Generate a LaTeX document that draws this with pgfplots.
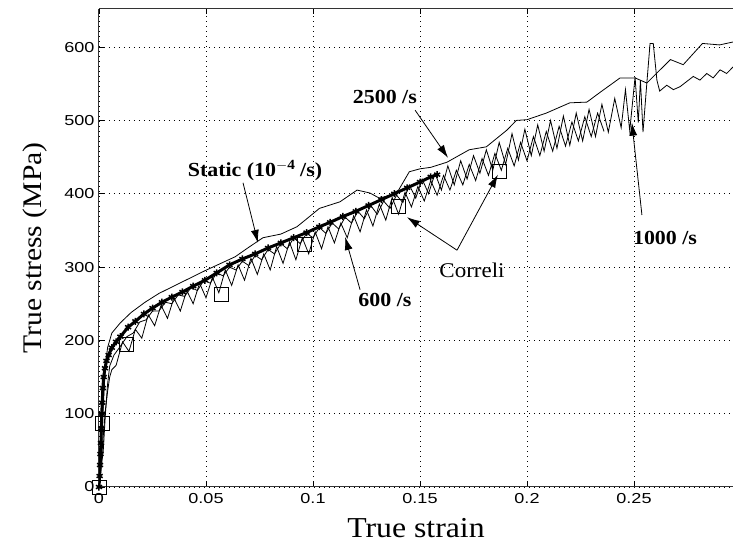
\documentclass[border=0pt]{standalone}
\usepackage{fontspec}
\setmainfont{Liberation Serif}[FakeStretch=1.1]
\newfontfamily\tickfont{Liberation Sans}[FakeStretch=1.25]
\usepackage{pgfplots}
\pgfplotsset{compat=1.18}
\usetikzlibrary{arrows.meta}

% stress-strain data
\pgfplotstableread{
x y
0 0
0.0003 15
0.0005 30
0.0007 45
0.0009 60
0.0011 80
0.0013 100
0.0015 115
0.0018 135
0.0022 150
0.0028 162
0.0035 172
0.0045 180
0.006 190
0.008 198
0.010 205
0.0136 218
0.017 226
0.021 236
0.025 244
0.0294 252
0.034 259
0.039 266
0.044 274
0.0495 282
0.055 292
0.061 303
0.067 311
0.073 318
0.079 326
0.085 333
0.091 340
0.097 347
0.103 355
0.108 361
0.114 369
0.120 376
0.126 384
0.132 392
0.138 400
0.144 408
0.150 416
0.155 423
0.158 426
}\staticdata

\pgfplotstableread{
x y
0 0
0.001 40
0.002 110
0.003 165
0.004 190
0.006 210
0.010 224
0.015 238
0.0215 252
0.028 264
0.037 277
0.0495 295
0.0636 314
0.070 327
0.0766 340
0.085 345
0.0925 355
0.098 368
0.103 380
0.1126 389
0.1206 405
0.1266 401
0.131 394
0.136 398
0.140 405
0.145 430
0.150 434
0.155 436
0.1626 443
0.173 460
0.181 464
0.1907 487
0.195 500
0.200 501
0.209 510
0.220 524
0.228 525
0.234 538
0.2435 558
0.2505 558
0.256 551
0.267 583
0.273 576
0.282 605
0.290 603
0.2963 607
}\rateA

\pgfplotstableread{
x y
0 0
0.002 50
0.003 100
0.004 140
0.005 165
0.007 180
0.010 192
0.013 205
0.016 210
0.019 225
0.022 228
0.025 240
0.028 240
0.031 252
0.034 250
0.037 262
0.040 260
0.043 272
0.046 268
0.049 282
0.052 278
0.055 292
0.058 288
0.061 300
0.064 296
0.067 308
0.070 302
0.073 316
0.076 310
0.079 324
0.082 318
0.085 332
0.088 325
0.091 340
0.094 332
0.097 346
0.100 340
0.103 354
0.106 346
0.109 360
0.112 352
0.115 368
0.118 360
0.121 376
0.124 366
0.127 384
0.130 372
0.133 390
0.136 380
0.139 398
0.142 388
0.145 412
0.148 394
0.151 420
0.154 400
0.157 428
0.160 405
0.163 438
0.166 412
0.169 445
0.172 420
0.175 452
0.178 428
0.181 460
0.184 432
0.187 470
0.190 440
0.193 482
0.196 446
0.199 488
0.202 452
0.205 494
0.208 458
0.211 500
0.214 462
0.217 506
0.220 466
0.223 510
0.226 472
0.229 515
0.232 478
0.235 522
0.238 484
0.241 530
0.244 490
0.246 542
0.248 486
0.2505 559
0.252 497
0.253 555
0.2542 484
0.256 551
0.2575 605
0.259 605
0.2607 555
0.262 540
0.2653 548
0.2684 542
0.2715 546
0.2746 553
0.2777 560
0.2808 555
0.284 564
0.287 558
0.2902 569
0.2933 564
0.2963 573
}\rateB

\pgfplotstableread{
x y
0 0
0.001 30
0.002 70
0.003 105
0.004 130
0.005 150
0.006 160
0.008 166
0.011 198
0.014 185
0.017 215
0.020 203
0.023 235
0.026 220
0.029 248
0.032 230
0.035 258
0.038 240
0.041 268
0.044 250
0.047 278
0.050 258
0.053 286
0.056 265
0.059 296
0.062 275
0.065 303
0.068 282
0.071 312
0.074 290
0.077 318
0.080 296
0.083 328
0.086 305
0.089 334
0.092 310
0.095 340
0.098 318
0.101 348
0.104 325
0.107 355
0.110 333
0.113 360
0.116 340
0.119 370
0.122 348
0.125 378
0.128 356
0.131 386
0.134 364
0.137 395
0.140 372
0.143 402
0.146 382
0.149 410
0.152 390
0.155 418
0.158 398
0.161 425
0.164 405
0.167 432
0.170 412
0.173 440
0.176 418
0.179 448
0.182 425
0.185 455
0.188 432
0.191 462
0.194 438
0.197 470
0.200 445
0.203 478
0.206 452
0.209 485
0.212 458
0.215 492
0.218 465
0.221 498
0.224 472
0.227 505
0.230 478
0.233 510
0.236 485
}\rateC

\pgfplotstableread{
x y
0 0
0.0015 87
0.013 194
0.057 263
0.096 331
0.1398 382
0.187 431
}\correli

\begin{document}
\begin{tikzpicture}
\begin{axis}[
    name=ax,
    anchor=south west,
    scale only axis,
    width=634bp, height=478bp,
    xmin=0, xmax=0.29626,
    ymin=0, ymax=652,
    axis x line*=box,
    axis y line*=left,
    axis line style={line width=1bp, black!80},
    xtick={0,0.05,0.1,0.15,0.2,0.25},
    xticklabels={0,0.05,0.1,0.15,0.2,0.25},
    ytick={0,100,...,600},
    yticklabels={0,100,200,300,400,500,600},
    xtick pos=both, ytick pos=left,
    tick align=inside,
    major tick length=5bp,
    tick style={black, line width=0.8bp},
    ticklabel style={font=\tickfont\fontsize{14.5}{16}\selectfont},
    xticklabel style={yshift=-3bp},
    yticklabel style={xshift=-1bp},
    grid=major,
    grid style={black, line width=0.7bp, dash pattern=on 1bp off 4bp},
    clip marker paths=false,
    every axis plot/.append style={black, line width=0.8bp},
]
\addplot[line width=3bp, mark=asterisk, mark size=3.5bp,
    mark options={line width=1.5bp}] table {\staticdata};
\addplot[no marks] table {\rateA};
\addplot[no marks] table {\rateB};
\addplot[no marks] table {\rateC};
\addplot[only marks, mark=square, mark size=7bp,
    mark options={line width=0.9bp, fill=white}] table {\correli};

% labels and arrows
\begin{scope}[every node/.style={font=\fontsize{20}{22}\selectfont\bfseries},
    arr/.style={line width=0.8bp, -{Latex[length=13bp,width=8bp]}}]
\node at (axis cs:0.0729,432) {Static (10$^{\mathbf{-4}}$ /s)};
\draw[arr] (axis cs:0.0673,415) -- (axis cs:0.0743,333);
\node at (axis cs:0.1336,532) {2500 /s};
\draw[arr] (axis cs:0.1477,514) -- (axis cs:0.1631,449);
\node at (axis cs:0.1336,255) {600 /s};
\draw[arr] (axis cs:0.122,269) -- (axis cs:0.115,341);
\node[font=\fontsize{21}{23}\selectfont] at (axis cs:0.1743,296) {Correli};
\draw[arr] (axis cs:0.1673,323) -- (axis cs:0.1439,368);
\draw[arr] (axis cs:0.1673,323) -- (axis cs:0.1864,426);
\node at (axis cs:0.2645,340) {1000 /s};
\draw[arr] (axis cs:0.2537,371) -- (axis cs:0.249,497);
\end{scope}
\end{axis}
\node[rotate=90, anchor=base, font=\fontsize{27}{29}\selectfont]
    at ([xshift=-57bp]ax.west) {True stress (MPa)};
\node[anchor=base, font=\fontsize{29}{31}\selectfont]
    at ([yshift=-50bp]ax.south) {True strain};
\pgfresetboundingbox
\path ([shift={(-99bp,-55bp)}]ax.south west) rectangle ([yshift=9bp]ax.north east);
\end{tikzpicture}
\end{document}
